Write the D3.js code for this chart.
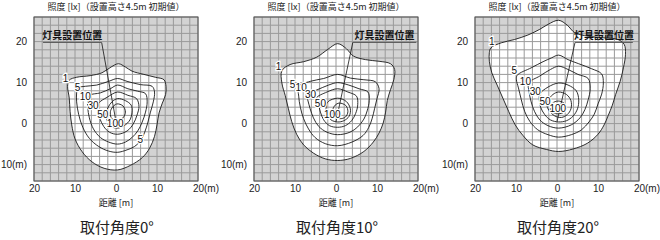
<!DOCTYPE html>
<html><head><meta charset="utf-8">
<script src="https://cdn.jsdelivr.net/npm/d3@7"></script>
<style>body{margin:0;background:#fff}svg{display:block}</style>
</head><body>
<svg id="c" width="660" height="240"></svg>
<script>
// ---------- data ----------
const angleLabels = ["取付角度0°", "取付角度10°", "取付角度20°"];
const luxLevels = [1, 5, 10, 30, 50, 100];
const xTickValues = [-20, -10, 0, 10, 20];
const xTickLabels = ["20", "10", "0", "10", "20(m)"];
const yTickValues = [20, 10, 0, -10];
const yTickLabels = ["20", "10", "0", "10(m)"];
const xDomain = [-20, 20];
const yDomain = [-14, 26];
const fixturePos = [0, 0.5];
const tagText = "灯具設置位置";
const tagSpans = [[-17.8, -3.5], [4.1, 19.6], [4.4, 18.5]];
const tagY = 19.8;

// angle 0°: contours for 1,5,10,30,50,100 lx  ([x m, y m])
const contours0 = [
  [[0.6,14.6],[2.3,13.8],[3.9,12.8],[6.8,12.0],[9.6,11.3],[11.7,10.7],[12.2,9.1],[12.1,7.1],[11.3,5.0],[10.5,2.6],[10.0,-0.3],[9.4,-3.1],[8.2,-6.0],[6.4,-8.3],[3.5,-10.2],[0.4,-11.3],[-2.9,-10.9],[-5.9,-9.3],[-8.3,-6.8],[-10.0,-3.7],[-10.8,-0.3],[-11.2,3.0],[-11.4,6.2],[-11.8,9.1],[-11.4,10.6],[-9.6,11.3],[-6.3,11.7],[-3.4,12.4],[-1.2,13.8]],
  [[-9.3,8.7],[-7.5,9.1],[-4.7,9.4],[-1.8,10.3],[0.4,11.0],[2.7,10.3],[6.0,9.5],[8.8,9.1],[9.4,7.7],[9.1,5.3],[8.4,2.8],[7.8,0.4],[7.0,-2.1],[6.0,-4.2],[4.5,-5.6],[2.7,-6.4],[0.4,-7.0],[-1.8,-6.7],[-4.2,-5.6],[-6.5,-3.6],[-8.1,-0.9],[-9.1,2.2],[-9.6,5.3],[-9.6,7.5]],
  [[-6.5,6.9],[-3.8,7.5],[-1.4,8.5],[0.4,9.4],[2.9,8.5],[5.3,7.9],[7.2,7.3],[7.6,5.3],[7.2,2.8],[6.4,0.4],[5.3,-1.8],[3.9,-3.4],[2.3,-4.5],[0.4,-5.0],[-1.8,-4.5],[-3.8,-3.4],[-5.5,-1.3],[-6.5,1.4],[-6.9,4.0],[-6.9,5.8]],
  [[-4.2,5.0],[-2.2,6.4],[0.4,7.7],[2.9,6.9],[5.0,6.1],[5.6,4.2],[5.1,2.0],[4.2,-0.1],[2.7,-1.8],[0.4,-2.6],[-1.6,-2.1],[-3.0,-0.7],[-4.0,1.4],[-4.5,3.4]],
  [[-2.0,3.8],[-1.0,5.3],[0.4,6.1],[2.3,5.6],[3.7,4.5],[3.9,2.8],[3.4,0.9],[2.0,-0.5],[0.4,-1.1],[-1.2,-0.7],[-2.2,0.7],[-2.5,2.2]],
  [[-1.0,3.8],[0.2,4.8],[1.7,4.3],[2.3,2.8],[1.7,1.4],[0.4,0.7],[-1.0,1.2],[-1.4,2.6]]
];
const labels0 = [["1",-12.3,11.1],["5",-9.4,8.7],["10",-7.5,6.6],["30",-5.6,4.5],["50",-3.2,2.3],["100",-0.2,0.0],["5",5.9,-3.8]];

// angle 10°
const contours10 = [
  [[-13.2,12.9],[-11.2,14.4],[-7.9,15.1],[-4.7,16.2],[-2.0,18.1],[0.4,19.5],[2.5,18.3],[4.2,16.5],[7.2,15.6],[10.5,15.2],[13.3,14.6],[14.3,13.2],[14.1,10.7],[13.3,8.3],[12.5,5.6],[12.1,2.8],[11.5,0.1],[10.5,-2.3],[9.1,-4.5],[6.8,-6.8],[3.5,-8.5],[0.4,-9.0],[-2.6,-8.6],[-5.5,-7.2],[-7.9,-5.2],[-9.6,-2.6],[-10.8,0.5],[-11.6,3.6],[-12.4,6.9],[-13.2,9.9]],
  [[-9.1,9.1],[-6.3,10.3],[-3.0,11.0],[0.4,12.0],[3.5,11.1],[6.8,10.7],[9.6,10.2],[10.5,8.5],[10.0,6.1],[9.4,3.6],[8.8,1.2],[8.0,-0.9],[6.6,-2.9],[3.9,-4.5],[0.4,-5.4],[-2.6,-4.9],[-5.1,-3.4],[-6.7,-1.3],[-7.9,1.2],[-8.7,4.0],[-9.1,6.7]],
  [[-7.3,7.2],[-4.7,8.2],[-1.8,9.4],[0.4,10.0],[3.1,9.4],[5.6,8.5],[7.8,7.7],[8.1,5.6],[7.6,3.1],[6.8,1.1],[5.3,-0.8],[3.4,-2.1],[0.4,-2.7],[-2.2,-2.1],[-4.2,-0.7],[-5.5,1.4],[-6.3,3.6],[-6.9,5.8]],
  [[-4.8,6.2],[-2.2,7.7],[0.4,8.5],[2.9,7.7],[5.0,6.7],[5.3,4.6],[4.8,2.5],[3.8,0.7],[2.3,-0.5],[0.4,-0.9],[-1.6,-0.5],[-3.0,0.9],[-3.8,2.8],[-4.3,4.8]],
  [[-2.0,5.3],[0.4,6.2],[2.5,5.4],[3.5,3.6],[3.2,1.8],[1.9,0.7],[0.4,0.4],[-1.2,0.9],[-2.2,2.3],[-2.4,4.0]],
  [[0.8,5.0],[2.4,4.4],[2.9,2.9],[2.3,1.6],[0.9,1.2],[-0.5,1.8],[-0.8,3.3],[-0.2,4.5]]
];
const labels10 = [["1",-14.0,14.0],["5",-10.6,9.6],["10",-8.5,8.8],["30",-6.2,7.0],["50",-3.8,5.0],["100",-0.9,2.3]];

// angle 20°
const contours20 = [
  [[-16.5,17.3],[-16.1,18.5],[-13.6,19.7],[-10.4,20.5],[-7.1,21.6],[-4.2,23.0],[-2.2,24.2],[0.4,25.2],[2.5,24.0],[4.3,22.2],[7.6,21.3],[11.7,20.9],[14.9,20.5],[16.4,19.3],[16.7,16.9],[16.2,13.6],[15.4,10.3],[14.3,7.1],[13.5,4.5],[12.5,2.0],[11.5,-0.3],[10.0,-2.6],[7.4,-4.8],[3.9,-6.2],[0.4,-6.8],[-2.6,-6.3],[-5.9,-5.2],[-8.3,-2.9],[-10.2,-0.3],[-11.8,3.0],[-13.2,6.2],[-14.6,9.4],[-15.9,12.4],[-16.5,15.2]],
  [[-9.7,11.8],[-6.3,13.6],[-3.4,15.1],[-1.4,16.0],[0.4,16.7],[2.7,15.6],[5.3,14.6],[8.4,13.4],[10.9,12.1],[11.3,9.9],[10.9,7.2],[10.0,4.8],[9.1,2.3],[7.8,0.4],[6.0,-1.5],[3.5,-2.7],[0.4,-3.3],[-2.2,-2.7],[-4.7,-1.5],[-6.6,0.5],[-7.9,3.0],[-8.7,5.8],[-9.4,8.7],[-9.9,10.7]],
  [[-6.9,9.9],[-4.2,11.6],[-1.6,13.2],[0.4,14.0],[2.7,13.2],[5.1,12.0],[7.6,11.0],[8.1,8.5],[7.6,5.8],[6.8,3.4],[5.6,1.4],[3.5,-0.3],[0.4,-1.1],[-2.2,-0.5],[-4.2,0.9],[-5.5,3.0],[-6.3,5.3],[-6.8,7.7]],
  [[-4.2,7.2],[-2.2,8.9],[0.4,9.9],[2.7,9.4],[4.7,8.0],[5.3,5.8],[5.0,3.6],[3.9,1.8],[2.3,0.7],[0.4,0.4],[-1.6,0.9],[-3.0,2.2],[-4.0,4.0],[-4.3,5.6]],
  [[-2.2,5.6],[-1.0,7.1],[0.4,7.7],[2.3,7.1],[3.4,5.6],[3.4,3.6],[2.5,2.2],[1.1,1.5],[-0.6,1.9],[-1.8,3.0],[-2.4,4.2]],
  [[0.3,5.5],[1.7,5.0],[2.2,3.9],[1.7,2.8],[0.3,2.4],[-1.1,2.8],[-1.6,3.9],[-1.1,5.0]]
];
const labels20 = [["1",-15.9,20.0],["5",-10.4,12.9],["10",-7.7,10.3],["30",-5.3,7.8],["50",-2.9,5.3],["100",0.2,3.7]];

// ---------- drawing ----------
const panels = [
  {contours: contours0, labels: labels0},
  {contours: contours10, labels: labels10},
  {contours: contours20, labels: labels20}
];
const lefts = [34, 254, 475];
const plotTop = 17, size = 164;
const latin = "'Liberation Sans', Arial, sans-serif";
const cjk = "'Noto Sans CJK JP', 'Noto Sans', sans-serif";
const svg = d3.select("#c");

panels.forEach((p, i) => {
  const L = lefts[i];
  const x = d3.scaleLinear().domain(xDomain).range([L, L + size]);
  const y = d3.scaleLinear().domain(yDomain).range([plotTop + size, plotTop]);
  const g = svg.append("g");
  const line = d3.line().x(d => x(d[0])).y(d => y(d[1])).curve(d3.curveCatmullRomClosed.alpha(0.5));

  g.append("rect").attr("x", L).attr("y", plotTop).attr("width", size).attr("height", size).attr("fill", "#d3d3d3");
  g.append("path").attr("d", line(p.contours[0])).attr("fill", "#fff");
  const gx = d3.range(xDomain[0], xDomain[1] + 0.1, 2);
  const gy = d3.range(yDomain[0], yDomain[1] + 0.1, 2);
  g.append("g").selectAll("line").data(gx).join("line")
    .attr("x1", d => x(d)).attr("x2", d => x(d)).attr("y1", plotTop).attr("y2", plotTop + size)
    .attr("stroke", "#9a9a9a").attr("stroke-width", 1);
  g.append("g").selectAll("line").data(gy).join("line")
    .attr("y1", d => y(d)).attr("y2", d => y(d)).attr("x1", L).attr("x2", L + size)
    .attr("stroke", "#9a9a9a").attr("stroke-width", 1);
  g.append("g").selectAll("path").data(p.contours).join("path")
    .attr("d", d => line(d)).attr("fill", "none").attr("stroke", "#1a1a1a").attr("stroke-width", 0.9);
  g.append("rect").attr("x", L).attr("y", plotTop).attr("width", size).attr("height", size)
    .attr("fill", "none").attr("stroke", "#555").attr("stroke-width", 1);

  const span = tagSpans[i];
  const startX = i === 0 ? span[1] : span[0];
  g.append("line").attr("x1", x(startX)).attr("y1", y(tagY)).attr("x2", x(fixturePos[0])).attr("y2", y(fixturePos[1]))
    .attr("stroke", "#111").attr("stroke-width", 0.8);
  g.append("line").attr("x1", x(span[0])).attr("x2", x(span[1])).attr("y1", y(tagY)).attr("y2", y(tagY))
    .attr("stroke", "#555").attr("stroke-width", 1);
  g.append("text").attr("x", (x(span[0]) + x(span[1])) / 2).attr("y", y(tagY) - 3)
    .attr("text-anchor", "middle").attr("font-family", cjk).attr("font-size", 10).attr("font-weight", "bold")
    .attr("fill", "#111").text(tagText);

  g.append("g").selectAll("text").data(p.labels).join("text")
    .attr("x", d => x(d[1])).attr("y", d => y(d[2])).attr("dy", "0.35em")
    .attr("text-anchor", "middle").attr("font-family", latin).attr("font-size", 10)
    .attr("fill", "#111").attr("stroke", "#fff").attr("stroke-width", 2.5).attr("paint-order", "stroke")
    .text(d => d[0]);

  const ax = g.append("g").attr("transform", `translate(0,${plotTop + size})`)
    .call(d3.axisBottom(x).tickValues(xTickValues).tickSize(0).tickPadding(4)
      .tickFormat((d, k) => xTickLabels[k]));
  ax.select(".domain").remove();
  ax.selectAll("text").attr("font-family", latin).attr("font-size", 10).attr("fill", "#222");
  ax.selectAll(".tick:last-of-type text").attr("text-anchor", "start").attr("dx", -5.6);

  const ay = g.append("g").attr("transform", `translate(${L},0)`)
    .call(d3.axisLeft(y).tickValues(yTickValues).tickSize(0).tickPadding(7)
      .tickFormat((d, k) => yTickLabels[k]));
  ay.select(".domain").remove();
  ay.selectAll("text").attr("font-family", latin).attr("font-size", 10).attr("fill", "#222");

  const cx = L + size / 2;
  g.append("text").attr("x", cx).attr("y", 10).attr("text-anchor", "middle")
    .attr("font-family", cjk).attr("font-size", 9).attr("fill", "#222")
    .text("照度 [lx]（設置高さ4.5m 初期値）");
  g.append("text").attr("x", cx).attr("y", 206).attr("text-anchor", "middle")
    .attr("font-family", cjk).attr("font-size", 9).attr("fill", "#222")
    .text("距離 [m]");
  g.append("text").attr("x", cx + 1).attr("y", 233).attr("text-anchor", "middle")
    .attr("font-family", cjk).attr("font-size", 15).attr("fill", "#222")
    .text(angleLabels[i]);
});
</script>
</body></html>
